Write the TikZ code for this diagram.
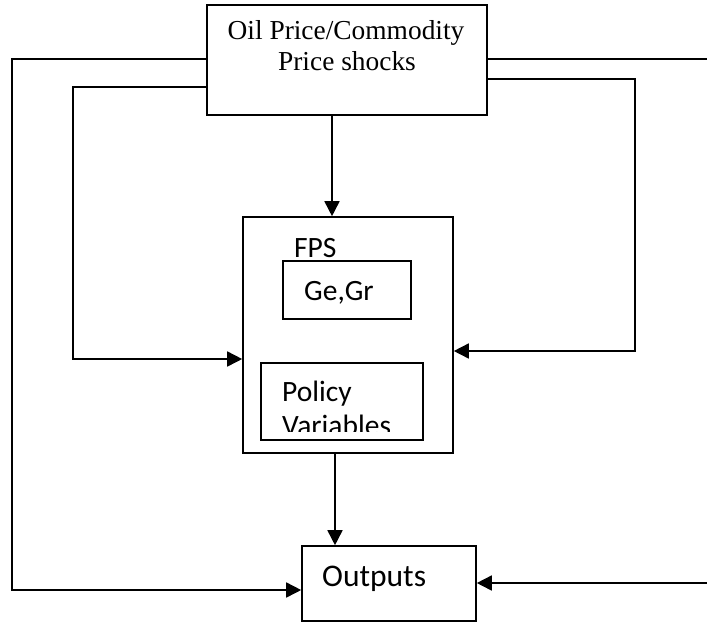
\documentclass[tikz,border=0pt]{standalone}
\usepackage{fontspec}
\setmainfont{Liberation Serif}
\newfontfamily\calfont{Carlito}
\usetikzlibrary{arrows.meta}
\begin{document}
\begin{tikzpicture}[x=1pt,y=-1pt,
  box/.style={draw, line width=1.6pt, inner sep=0pt, rectangle},
  conn/.style={line width=1.6pt},
  arr/.style={line width=1.6pt, -{Triangle[length=15pt,width=15pt]}},
  serlab/.style={font=\fontsize{27.4}{31}\selectfont, inner sep=0pt, anchor=base},
  sanslab/.style={font=\calfont\fontsize{29.5}{34}\selectfont, inner sep=0pt, anchor=base west}]
\useasboundingbox (0,0) rectangle (707,622);
% boxes
\node[box, minimum width=280pt, minimum height=110pt] (top) at (347,60) {};
\node[box, minimum width=210pt, minimum height=236pt] (fps) at (348,335) {};
\node[box, minimum width=128pt, minimum height=58pt] (gegr) at (347,290) {};
\node[box, minimum width=162pt, minimum height=77pt] (policy) at (342,401.5) {};
\node[box, minimum width=174pt, minimum height=75pt] (out) at (389,583.5) {};
% texts
\node[serlab] (t1) at (346,39) {Oil Price/Commodity};
\node[serlab] (t2) at (347,70) {Price shocks};
\node[sanslab] (tfps) at (294,257) {FPS};
\node[sanslab] (tgegr) at (304,300) {Ge,Gr};
\node[sanslab] (tpol) at (282,401) {Policy};
\begin{scope}
\clip (262,364) rectangle (422,431);
\node[sanslab] (tvar) at (282,435) {Variables};
\end{scope}
\node[sanslab, font=\calfont\fontsize{31.5}{36}\selectfont] (tout) at (322,586) {Outputs};
% coordinates
\coordinate (a1) at (332,0);
\coordinate (a2) at (335,0);
\coordinate (l1) at (12,59);
\coordinate (l1b) at (12,590);
\coordinate (l2) at (73,87);
\coordinate (l2b) at (73,359);
\coordinate (r2) at (635,79);
\coordinate (r2b) at (635,351);
\coordinate (r1) at (707,59);
\coordinate (r1b) at (707,583);
% connectors
\draw[arr] (top.south -| a1) -- (fps.north -| a1);
\draw[arr] (fps.south -| a2) -- (out.north -| a2);
\draw[arr] (top.west |- l1) -- (l1) -- (l1b) -- (out.west |- l1b);
\draw[arr] (top.west |- l2) -- (l2) -- (l2b) -- (fps.west |- l2b);
\draw[arr] (top.east |- r2) -- (r2) -- (r2b) -- (fps.east |- r2b);
\draw[conn] (top.east |- r1) -- (r1);
\draw[arr] (r1b) -- (out.east |- r1b);
\end{tikzpicture}
\end{document}
